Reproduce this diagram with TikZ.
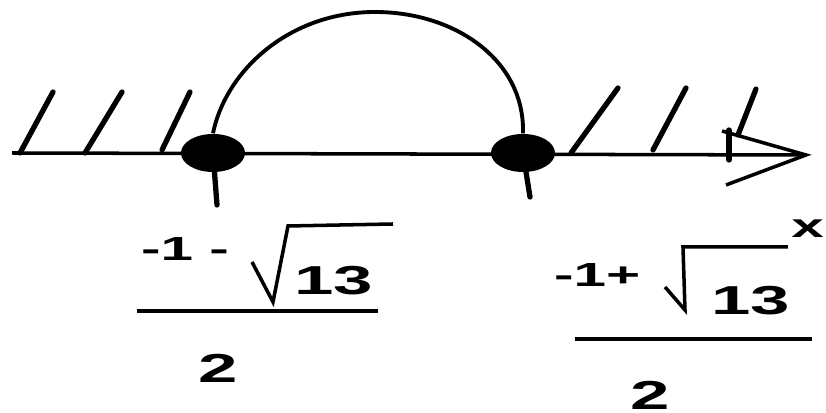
\documentclass[tikz,border=0pt]{standalone}
\usepackage{fontspec}
\setmainfont{Liberation Sans}
\usetikzlibrary{shapes.geometric}

\begin{document}
\begin{tikzpicture}[
  x=0.01cm, y=-0.01cm,
  axis/.style={line width=1pt},
  hatch/.style={line width=1.5pt, line cap=round},
  curve/.style={line width=1.1pt},
  ptmark/.style={ellipse, fill=black, inner sep=0, minimum width=0.64cm, minimum height=0.38cm},
  numsm/.style={inner sep=0, xscale=1.75, font=\bfseries\fontsize{9.5}{9.5}\selectfont},
  numlg/.style={inner sep=0, xscale=1.75, font=\bfseries\fontsize{11.5}{11.5}\selectfont}
]
\useasboundingbox (0,0) rectangle (826,413);

% number line
\coordinate (axL) at (12,153);
\coordinate (axR) at (806,155);
\coordinate (tipU) at (722,131);
\coordinate (tipD) at (726,185);
\draw[axis] (axL) -- (axR);
\draw[axis] (tipU) -- (axR) -- (tipD);

\foreach \xa/\ya/\xb/\yb in {20/153/53/92, 85/153/122/92, 162/150/190/92,
                             571/153/618/88, 653/150/686/88, 738/135/756/89}
  \draw[hatch] (\xa,\ya) -- (\xb,\yb);
\draw[hatch] (729,130) -- (729,160);

% roots
\node[ptmark] (p1) at (213,153) {};
\node[ptmark] (p2) at (523,153) {};
\coordinate (t1) at (217,205);
\coordinate (t2) at (530,197);
\draw[hatch] (p1.center) -- (t1);
\draw[hatch] (p2.center) -- (t2);

\draw[curve] (p1.north) .. controls (226,70) and (290,12) .. (375,12)
                        .. controls (455,12) and (525,60) .. (p2.north);

% left root
\node[numsm, anchor=west] (m1) at (140,249) {-1 -};
\node[numlg, anchor=west] (r1) at (293,281) {13};
\draw[axis] (252,262) -- (273,302) -- (288,226) -- (393,224);
\coordinate (b1L) at (137,311);
\coordinate (b1R) at (378,311);
\draw[axis] (b1L) -- (b1R);
\node[numlg] (d1) at (218,368) {2};

% right root
\node[numsm, anchor=west] (m2) at (553,275) {-1+};
\node[numlg, anchor=west] (r2) at (710,301) {13};
\draw[axis] (665,287) -- (685,310) -- (683,247) -- (788,247);
\coordinate (b2L) at (575,339);
\coordinate (b2R) at (812,339);
\draw[axis] (b2L) -- (b2R);
\node[numlg] (d2) at (650,395) {2};

\node[numsm, anchor=east] (xl) at (825,229) {x};
\end{tikzpicture}
\end{document}
